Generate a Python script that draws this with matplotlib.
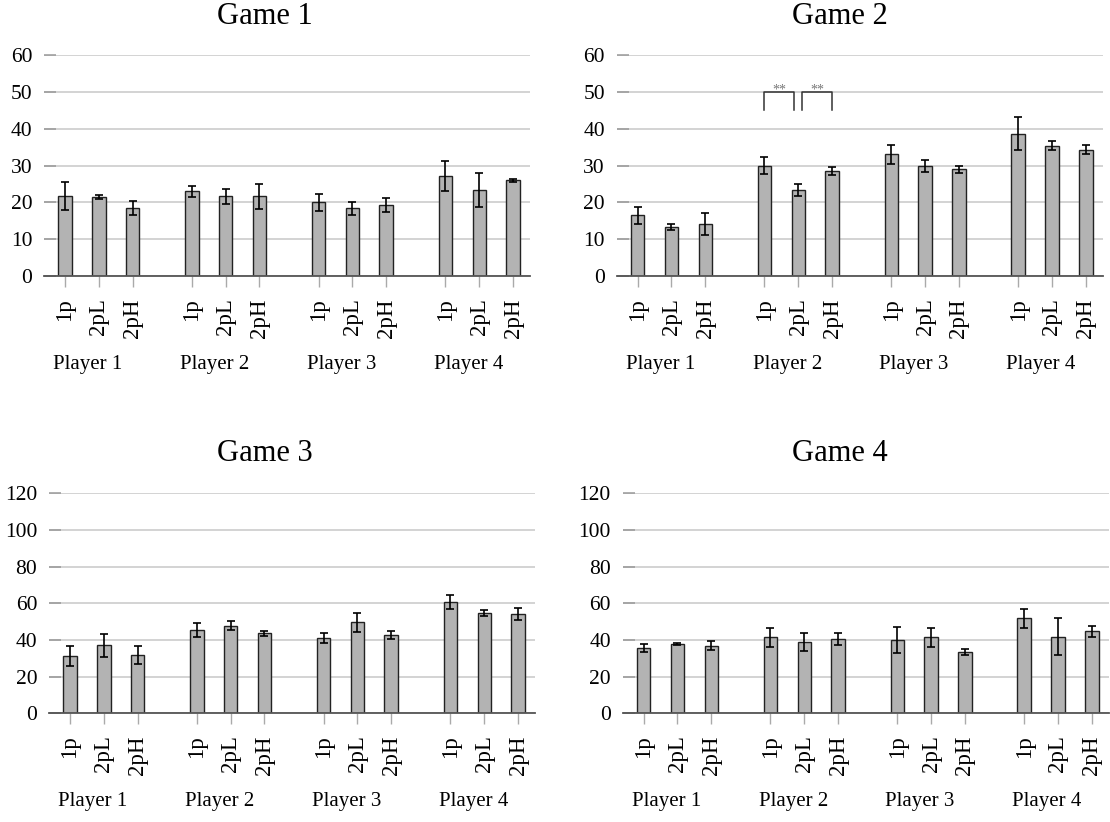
import numpy as np
import matplotlib
matplotlib.use("Agg")
import matplotlib.pyplot as plt

plt.rcParams['font.family'] = ['Liberation Serif', 'DejaVu Serif']

# categories
players = ["Player 1", "Player 2", "Player 3", "Player 4"]
conds = ["1p", "2pL", "2pH"]

# mean values per game (order: P1 1p,2pL,2pH, P2 ..., P3 ..., P4 ...)
game1_mean = [21.7, 21.5, 18.5, 23.0, 21.6, 21.6, 20.0, 18.4, 19.4, 27.1, 23.3, 26.0]
game1_err = [3.7, 0.6, 1.9, 1.5, 2.1, 3.5, 2.3, 1.8, 1.9, 4.0, 4.6, 0.45]

game2_mean = [16.5, 13.3, 14.0, 30.0, 23.3, 28.5, 33.0, 29.8, 29.0, 38.6, 35.4, 34.3]
game2_err = [2.3, 0.9, 3.0, 2.2, 1.7, 1.0, 2.6, 1.6, 1.0, 4.5, 1.3, 1.2]

game3_mean = [31.3, 37.1, 31.7, 45.6, 47.8, 43.6, 41.3, 49.6, 42.9, 60.8, 54.8, 54.1]
game3_err = [5.3, 6.4, 5.0, 3.8, 2.3, 1.2, 2.7, 5.2, 2.2, 3.8, 1.7, 3.2]

game4_mean = [35.8, 37.6, 36.9, 41.4, 38.9, 40.4, 39.8, 41.4, 33.5, 51.8, 41.8, 44.7]
game4_err = [2.2, 0.5, 2.3, 5.4, 5.1, 3.2, 7.1, 5.3, 1.6, 5.2, 10.2, 3.1]

titles = ["Game 1", "Game 2", "Game 3", "Game 4"]
ymax = [60, 60, 120, 120]
ystep = [10, 10, 20, 20]

# bar positions: 3 bars per player, extra gap between players
pos = np.array([g * 3.75 + i for g in range(4) for i in range(3)])
labels = conds * 4

W, H = 1110, 822
fig = plt.figure(figsize=(W / 100, H / 100), dpi=100)

# axes boxes in pixels: left, bottom (from top), width, height
boxes = [(44, 276, 486, 221), (616.7, 276, 486, 221),
         (49, 713.3, 486, 220), (622.7, 713.3, 486, 220)]
title_pos = [(265, 17), (840, 17), (265, 453), (840, 453)]

data = [(game1_mean, game1_err), (game2_mean, game2_err),
        (game3_mean, game3_err), (game4_mean, game4_err)]

axes = []
for k in range(4):
    l, b, w, h = boxes[k]
    ax = fig.add_axes([l / W, (H - b) / H, w / W, h / H])
    axes.append(ax)
    m, e = data[k]
    ax.yaxis.grid(True, color='#c8c8c8', linewidth=1.1)
    ax.set_axisbelow(True)
    ax.bar(pos, m, width=0.4, color='#b3b3b3', edgecolor='#222222', linewidth=1.0, zorder=2)
    ax.errorbar(pos, m, yerr=e, fmt='none', ecolor='black', elinewidth=1.2,
                capsize=3, capthick=1.2, zorder=3)
    ax.set_xlim(-0.62, 13.75)
    ax.set_ylim(0, ymax[k])
    ax.set_yticks(np.arange(0, ymax[k] + 1, ystep[k]))
    ax.set_xticks(pos)
    ax.set_xticklabels(labels, rotation=90, fontsize=16.5)
    ax.tick_params(axis='y', direction='in', length=8.5, width=1.1, color='#999999',
                   pad=8.5, labelsize=15.5)
    ax.tick_params(axis='x', direction='out', length=8, width=1.0, color='#aaaaaa',
                   pad=8)
    for s in ['top', 'right', 'left']:
        ax.spines[s].set_visible(False)
    ax.spines['bottom'].set_color('#555555')
    ax.spines['bottom'].set_linewidth(1.3)
    ax.spines['bottom'].set_zorder(4)
    for g in range(4):
        ax.text(pos[g * 3] - 0.35, -0.40, players[g], transform=ax.get_xaxis_transform(),
                ha='left', va='center', fontsize=15)
    tx, ty = title_pos[k]
    fig.text(tx / W, 1 - ty / H, titles[k], ha='center', va='center', fontsize=22)

# significance brackets in Game 2 (Player 2)
ax = axes[1]
brackets = [(pos[3], pos[4] - 0.12), (pos[4] + 0.12, pos[5])]
for x0, x1 in brackets:
    ax.plot([x0, x0, x1, x1], [45, 50, 50, 45], color='#333333', linewidth=1.1,
            zorder=3, clip_on=False)
    ax.text((x0 + x1) / 2, 49.6, "**", ha='center', va='baseline', fontsize=10,
            color='#777777')

fig.savefig("out.png", dpi=100)
